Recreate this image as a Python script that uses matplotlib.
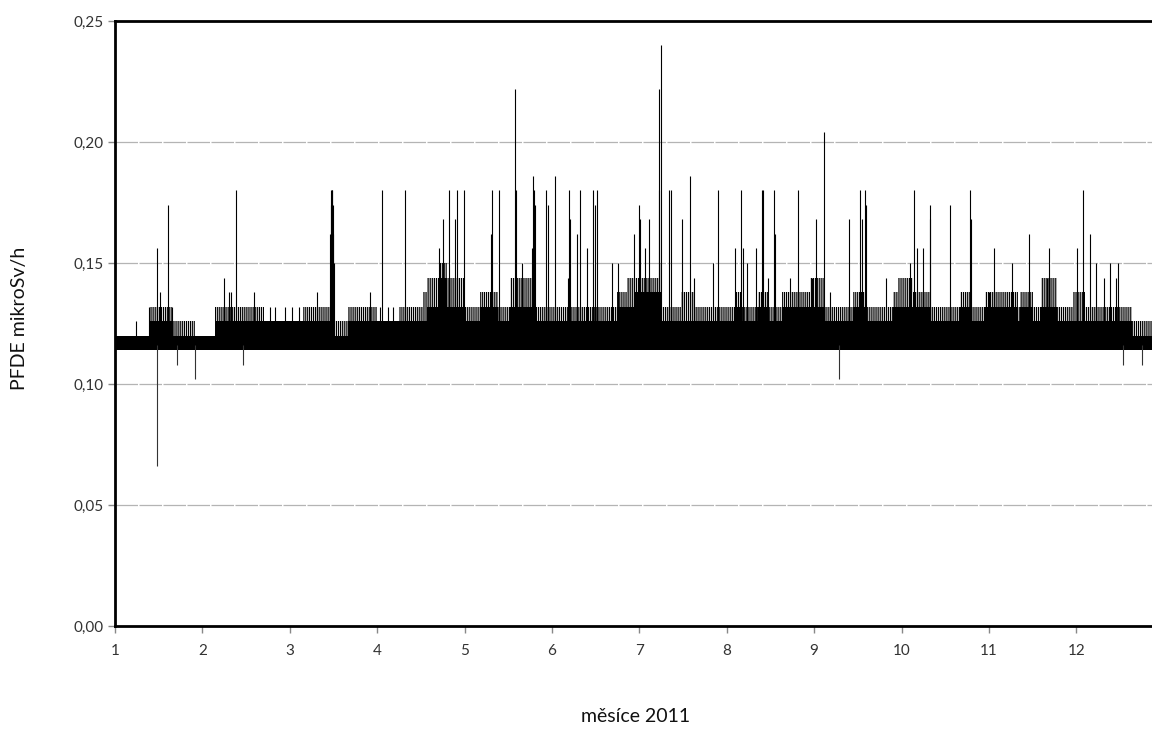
import numpy as np
import matplotlib
matplotlib.use("Agg")
import matplotlib.pyplot as plt

plt.rcParams['font.family'] = ['Lato', 'DejaVu Sans']
plt.rcParams['hatch.linewidth'] = 0.9

# hourly dose rate, summarised as a baseline band plus the individual excursions
BAND_BOTTOM = 0.114

# band segments: start month, solid top of the band, top of the dense fringe
seg_start = [1.00, 1.40, 1.65, 1.92, 2.14, 2.70, 3.15, 3.52, 3.67, 4.00, 4.25,
             4.52, 4.57, 4.72, 4.80,
             5.00, 5.18, 5.38, 5.52, 5.80, 6.74, 6.86, 6.95, 7.22, 7.26, 7.48,
             7.62, 8.09, 8.17, 8.36, 8.47, 8.63, 8.95, 9.12, 9.44, 9.60, 9.90,
             9.96, 10.13, 10.32, 10.67, 10.78, 10.95, 11.33, 11.36, 11.50,
             11.60, 11.78, 11.96, 12.10, 12.64]
seg_core = [0.120, 0.126, 0.120, 0.120, 0.126, 0.126, 0.126, 0.120, 0.126, 0.126, 0.126,
            0.126, 0.132, 0.144, 0.132,
            0.126, 0.132, 0.126, 0.132, 0.126, 0.132, 0.132, 0.138, 0.138, 0.126, 0.126,
            0.126, 0.132, 0.126, 0.132, 0.126, 0.132, 0.132, 0.126, 0.132, 0.126, 0.132,
            0.132, 0.132, 0.126, 0.132, 0.126, 0.132, 0.126, 0.132, 0.126,
            0.132, 0.126, 0.126, 0.126, 0.120]
seg_fringe = [0.120, 0.132, 0.126, 0.120, 0.132, 0.126, 0.132, 0.126, 0.132, 0.126, 0.132,
              0.138, 0.144, 0.150, 0.144,
              0.132, 0.138, 0.132, 0.144, 0.132, 0.138, 0.144, 0.144, 0.150, 0.132, 0.138,
              0.132, 0.138, 0.132, 0.138, 0.132, 0.138, 0.144, 0.132, 0.138, 0.132, 0.138,
              0.144, 0.138, 0.132, 0.138, 0.132, 0.138, 0.132, 0.138, 0.132,
              0.144, 0.132, 0.138, 0.132, 0.126]
MONTH_END = 13.0

# single peaks above the band (month, value)
peak_month = [1.24, 1.39, 1.48, 1.51, 1.61, 1.65, 2.25, 2.30, 2.33, 2.38, 2.59,
              2.77, 2.83, 2.94, 3.02, 3.11,
              3.31, 3.465, 3.47, 3.475, 3.48, 3.485, 3.49, 3.50, 3.51, 3.92,
              4.03, 4.06, 4.12, 4.18, 4.32, 4.711, 4.748, 4.82, 4.887, 4.917, 4.997,
              5.30, 5.31, 5.39, 5.58, 5.585, 5.66, 5.77, 5.78, 5.80, 5.81, 5.93, 5.96, 6.03,
              6.18, 6.20, 6.21, 6.29, 6.32, 6.40, 6.47, 6.49, 6.52, 6.69, 6.76, 6.94,
              7.00, 7.01, 7.06, 7.11, 7.22, 7.23, 7.25, 7.34, 7.36, 7.49, 7.58, 7.62,
              7.84, 7.90, 8.09, 8.16, 8.19, 8.23, 8.34, 8.40, 8.42, 8.47, 8.54, 8.55,
              8.72, 8.81, 8.97, 9.02, 9.11, 9.18, 9.40, 9.52, 9.55, 9.58, 9.59,
              9.82, 10.10, 10.14, 10.18, 10.25, 10.32, 10.33, 10.56, 10.78, 10.79,
              11.00, 11.06, 11.26, 11.46, 11.66, 11.69, 12.01, 12.08, 12.16, 12.22,
              12.32, 12.39, 12.45, 12.48]
peak_value = [0.126, 0.132, 0.156, 0.138, 0.174, 0.132, 0.144, 0.138, 0.138, 0.180, 0.138,
              0.132, 0.132, 0.132, 0.132, 0.132,
              0.138, 0.162, 0.174, 0.180, 0.180, 0.180, 0.174, 0.162, 0.150, 0.138,
              0.132, 0.180, 0.132, 0.132, 0.180, 0.156, 0.168, 0.180, 0.168, 0.180, 0.180,
              0.162, 0.180, 0.180, 0.222, 0.180, 0.150, 0.156, 0.186, 0.180, 0.174, 0.180, 0.174, 0.186,
              0.144, 0.180, 0.168, 0.162, 0.180, 0.156, 0.180, 0.174, 0.180, 0.150, 0.150, 0.162,
              0.174, 0.168, 0.156, 0.168, 0.180, 0.222, 0.240, 0.180, 0.180, 0.168, 0.186, 0.144,
              0.150, 0.180, 0.156, 0.180, 0.156, 0.150, 0.156, 0.180, 0.180, 0.144, 0.180, 0.162,
              0.144, 0.180, 0.144, 0.168, 0.204, 0.138, 0.168, 0.180, 0.168, 0.180, 0.174,
              0.144, 0.150, 0.180, 0.156, 0.156, 0.174, 0.168, 0.174, 0.180, 0.168,
              0.138, 0.156, 0.150, 0.162, 0.144, 0.156, 0.156, 0.180, 0.162, 0.150,
              0.144, 0.150, 0.144, 0.150]

# drops below the band (month, value)
dip_month = [1.48, 1.71, 1.92, 2.47, 9.28, 12.53, 12.75]
dip_value = [0.066, 0.108, 0.102, 0.108, 0.102, 0.108, 0.108]

y_ticks = [0.00, 0.05, 0.10, 0.15, 0.20, 0.25]
x_ticks = list(range(1, 13))

fig = plt.figure(figsize=(11.52, 7.29), dpi=100)
ax = fig.add_axes([0.0998, 0.1413, 0.9104, 0.8299])

edges = np.array(seg_start + [MONTH_END])
core = np.array(seg_core + [seg_core[-1]])
fringe = np.array(seg_fringe + [seg_fringe[-1]])

ax.fill_between(edges, BAND_BOTTOM, core, step='post', color='black', lw=0, zorder=3)
ax.fill_between(edges, core, fringe, step='post', facecolor='none', edgecolor='black',
                hatch='||||||||', lw=0, zorder=3)
ax.vlines(peak_month, 0.119, peak_value, color='black', lw=0.8, zorder=3)
ax.vlines(dip_month, dip_value, 0.116, color='#333333', lw=0.8, zorder=3)

ax.set_xlim(1, 13)
ax.set_ylim(0, 0.25)
ax.set_xticks(x_ticks)
ax.set_xticklabels([str(m) for m in x_ticks])
ax.set_yticks(y_ticks)
ax.set_yticklabels([f'{v:.2f}'.replace('.', ',') for v in y_ticks])

for v in y_ticks[1:-1]:
    ax.axhline(v, color='#b4b4b4', lw=0.9, ls=(0, (18, 1.2)), zorder=1)

for side in ['left', 'top', 'bottom']:
    ax.spines[side].set_linewidth(2)
    ax.spines[side].set_color('black')
ax.spines['right'].set_visible(False)

ax.tick_params(axis='both', colors='#888888', length=5, width=1, labelsize=11,
               labelcolor='#333333')
ax.tick_params(axis='x', pad=8)

ax.set_xlabel('měsíce 2011', fontsize=14, color='#111111')
ax.xaxis.set_label_coords(0.496, -0.135)
ax.set_ylabel('PFDE mikroSv/h', fontsize=14, color='#111111')
ax.yaxis.set_label_coords(-0.083, 0.509)

fig.savefig('out.png', dpi=100)
